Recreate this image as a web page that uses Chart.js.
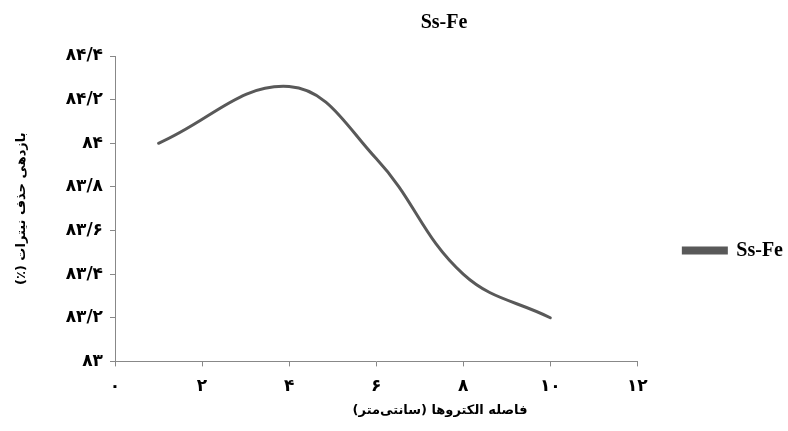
<!DOCTYPE html>
<html>
<head>
<meta charset="utf-8">
<script src="https://cdn.jsdelivr.net/npm/chart.js@4/dist/chart.umd.min.js"></script>
<style>
	html, body { margin: 0; padding: 0; background: #fff; }
	#wrap { width: 788px; height: 431px; }
</style>
</head>
<body>
<div id="wrap"><canvas id="chart"></canvas></div>
<script>
var seriesName = 'Ss-Fe';
var distances = [1, 4, 6, 8, 10];
var removal = [84.0, 84.26, 83.93, 83.4, 83.2];

var xTickLabels = ['۰', '۲', '۴', '۶', '۸', '۱۰', '۱۲'];
var yTickLabels = ['۸۳', '۸۳/۲', '۸۳/۴', '۸۳/۶', '۸۳/۸', '۸۴', '۸۴/۲', '۸۴/۴'];

var xTitle = 'فاصله الکتروها (سانتی‌متر)';
var yTitle = 'بازدهی حذف نیترات (٪)';

var lineColor = '#595959';
var axisColor = '#888888';
var tickFont = { family: 'DejaVu Sans', size: 17, weight: 'bold' };
var titleFont = { family: 'DejaVu Sans', size: 13, weight: 'bold' };

// persian titles are drawn right to left
function rtl(text) {
	return '\u202B' + text + '\u202C';
}

var points = distances.map(function (x, i) {
	return { x: x, y: removal[i] };
});

// the source centres its titles and legend a bit off the default boxes
var placement = {
	id: 'placement',
	afterLayout: function (chart) {
		chart.titleBlock.left = 100;
		chart.boxes.forEach(function (box) {
			if (box !== chart.titleBlock && box.options && box.options.text === rtl(xTitle)) {
				box.left = 92;
			}
		});
		chart.legend.top += 37;
		chart.legend.bottom += 37;
		chart.legend.left += 5;
		chart.legend.right += 5;
	}
};

new Chart(document.getElementById('chart'), {
	type: 'scatter',
	data: {
		datasets: [{
			label: seriesName,
			data: points,
			showLine: true,
			tension: 0.4,
			borderColor: lineColor,
			backgroundColor: lineColor,
			borderWidth: 3,
			pointRadius: 0,
			borderCapStyle: 'round'
		}]
	},
	plugins: [placement],
	options: {
		responsive: true,
		maintainAspectRatio: false,
		animation: false,
		layout: { padding: { top: 0, right: 0, left: 6, bottom: 4 } },
		plugins: {
			title: {
				display: true,
				text: seriesName,
				color: '#000',
				font: { family: 'Liberation Serif', size: 20, weight: 'bold' },
				padding: { top: 11, bottom: 21 }
			},
			subtitle: {
				display: true,
				position: 'bottom',
				text: rtl(xTitle),
				color: '#000',
				font: titleFont,
				padding: { top: 0, bottom: 9 }
			},
			legend: {
				position: 'right',
				labels: {
					boxWidth: 43,
					boxHeight: 5,
					color: '#000',
					padding: 10,
					font: { family: 'Liberation Serif', size: 20, weight: 'bold' }
				}
			},
			tooltip: { enabled: false }
		},
		scales: {
			x: {
				type: 'linear',
				min: 0,
				max: 12,
				afterFit: function (scale) { scale.height = 41; },
				ticks: {
					stepSize: 2,
					color: '#000',
					font: tickFont,
					padding: 10,
					maxRotation: 0,
					callback: function (value, index) { return xTickLabels[index]; }
				},
				grid: { drawOnChartArea: false, color: axisColor, tickLength: 5 },
				border: { color: axisColor }
			},
			y: {
				min: 83,
				max: 84.4,
				afterFit: function (scale) { scale.width = 109; },
				ticks: {
					stepSize: 0.2,
					color: '#000',
					font: tickFont,
					padding: 7,
					callback: function (value, index) { return yTickLabels[index]; }
				},
				grid: { drawOnChartArea: false, color: axisColor, tickLength: 5 },
				border: { color: axisColor },
				title: {
					display: true,
					text: rtl(yTitle),
					color: '#000',
					font: titleFont,
					padding: { top: 8, bottom: 0 }
				}
			},
			// empty strip between plot and legend
			gap: {
				type: 'linear',
				position: 'right',
				min: 0,
				max: 1,
				afterFit: function (scale) { scale.width = 31; },
				ticks: { display: false },
				grid: { display: false },
				border: { display: false }
			}
		}
	}
});
</script>
</body>
</html>
